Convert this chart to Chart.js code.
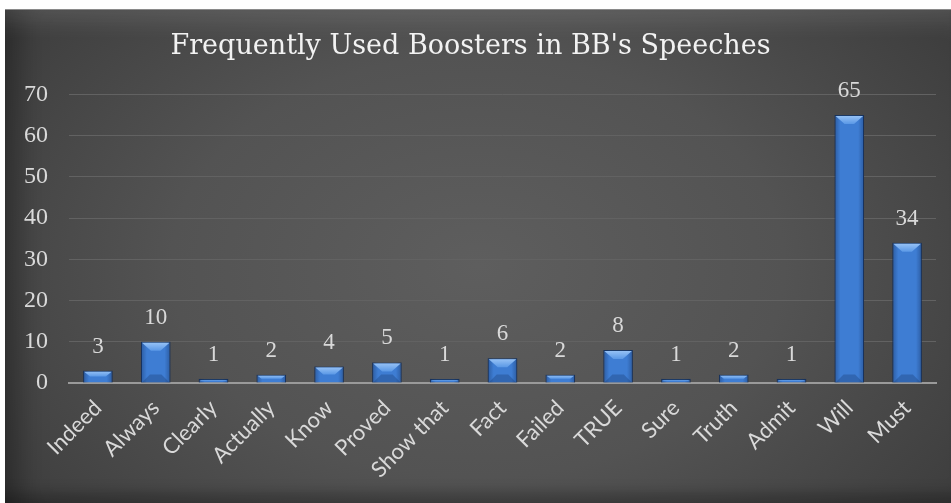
<!DOCTYPE html>
<html>
<head>
<meta charset="utf-8">
<script src="https://cdn.jsdelivr.net/npm/chart.js@4/dist/chart.umd.min.js"></script>
<style>
  html, body { margin: 0; padding: 0; background: #fff; }
  #frame {
    position: absolute; left: 5px; top: 9px; width: 946px; height: 494px;
    background: radial-gradient(ellipse 72% 95% at 50% 52%, #5e5e5e 0%, #535353 45%, #363636 100%);
    box-shadow: inset 0 1px 0 #8a8a8a,
                inset 0 30px 22px -18px rgba(255,255,255,0.12),
                inset 34px 0 30px -22px rgba(0,0,0,0.35),
                inset 0 -22px 14px -12px rgba(0,0,0,0.25);
  }
  #frame canvas { position: absolute; left: 0; top: 0; }
</style>
</head>
<body>
<div id="frame"><canvas id="chart" width="946" height="494"></canvas></div>
<script>
const categories = ['Indeed', 'Always', 'Clearly', 'Actually', 'Know', 'Proved', 'Show that', 'Fact', 'Failed', 'TRUE', 'Sure', 'Truth', 'Admit', 'Will', 'Must'];
const counts = [3, 10, 1, 2, 4, 5, 1, 6, 2, 8, 1, 2, 1, 65, 34];
const yTicks = [0, 10, 20, 30, 40, 50, 60, 70];
const chartTitle = "Frequently Used Boosters in BB's Speeches";

const textColor = '#d9d9d9';
const serif = "'Liberation Serif', 'Times New Roman', serif";

// bevel overlay + value labels on top of each bar
const barDecor = {
  id: 'barDecor',
  afterDatasetsDraw(chart) {
    const ctx = chart.ctx;
    const meta = chart.getDatasetMeta(0);
    ctx.save();
    meta.data.forEach((bar, i) => {
      const w = bar.width;
      const left = bar.x - w / 2;
      const right = bar.x + w / 2;
      const top = bar.y;
      const h = bar.base - bar.y;
      // side shading
      const side = ctx.createLinearGradient(left, 0, right, 0);
      side.addColorStop(0, 'rgba(10,30,70,0.35)');
      side.addColorStop(0.2, 'rgba(10,30,70,0)');
      side.addColorStop(0.8, 'rgba(10,30,70,0)');
      side.addColorStop(1, 'rgba(10,30,70,0.35)');
      ctx.fillStyle = side;
      ctx.fillRect(left, top, w, h);
      // top bevel
      const b = Math.min(9, h / 2);
      const bev = ctx.createLinearGradient(0, top, 0, top + b);
      bev.addColorStop(0, '#9cc6f7');
      bev.addColorStop(1, '#5a98e6');
      ctx.fillStyle = bev;
      ctx.beginPath();
      ctx.moveTo(left + 1, top + 1);
      ctx.lineTo(right - 1, top + 1);
      ctx.lineTo(right - 1 - b, top + b);
      ctx.lineTo(left + 1 + b, top + b);
      ctx.closePath();
      ctx.fill();
      // bottom bevel (darker)
      if (h > 20) {
        ctx.fillStyle = 'rgba(20,50,100,0.3)';
        ctx.beginPath();
        ctx.moveTo(left + 1, bar.base);
        ctx.lineTo(right - 1, bar.base);
        ctx.lineTo(right - 1 - 8, bar.base - 8);
        ctx.lineTo(left + 1 + 8, bar.base - 8);
        ctx.closePath();
        ctx.fill();
      }
      // value label
      ctx.fillStyle = textColor;
      ctx.font = '23px ' + serif;
      ctx.textAlign = 'center';
      ctx.textBaseline = 'middle';
      ctx.fillText(String(counts[i]), bar.x, top - 24);
    });
    ctx.restore();
  }
};

function build() {
  new Chart(document.getElementById('chart'), {
    type: 'bar',
    data: {
      labels: categories,
      datasets: [{
        data: counts,
        backgroundColor: '#3e7dd3',
        borderColor: '#1c3a66',
        borderWidth: 1,
        categoryPercentage: 1,
        barPercentage: 0.51,
      }],
    },
    options: {
      responsive: false,
      animation: false,
      layout: { padding: { left: 0, right: 15, top: 0, bottom: 0 } },
      plugins: {
        legend: { display: false },
        tooltip: { enabled: false },
        title: {
          display: true,
          text: chartTitle,
          color: '#f2f2f2',
          font: { family: "'DejaVu Serif', serif", size: 27, weight: 'normal' },
          padding: { top: 22, bottom: 31 },
        },
      },
      scales: {
        x: {
          grid: { display: false, drawTicks: false },
          border: { display: true, color: '#9a9a9a', width: 2 },
          ticks: {
            color: textColor,
            font: { family: "Lato, 'Open Sans', sans-serif", size: 22 },
            maxRotation: 45,
            minRotation: 45,
            padding: 12,
            autoSkip: false,
          },
          afterFit(scale) { scale.height = 120; },
        },
        y: {
          min: 0,
          max: 70,
          afterBuildTicks(scale) { scale.ticks = yTicks.map(v => ({ value: v })); },
          grid: { color: '#626262', lineWidth: 1, drawTicks: false },
          border: { display: false },
          ticks: {
            color: textColor,
            font: { family: serif, size: 24 },
            padding: 21,
          },
          afterFit(scale) { scale.width = 64; },
        },
      },
    },
    plugins: [barDecor],
  });
}

Promise.all([
  document.fonts.load("24px 'Liberation Serif'"),
  document.fonts.load("22px Lato"),
  document.fonts.load("27px 'DejaVu Serif'"),
]).then(build, build);
</script>
</body>
</html>
